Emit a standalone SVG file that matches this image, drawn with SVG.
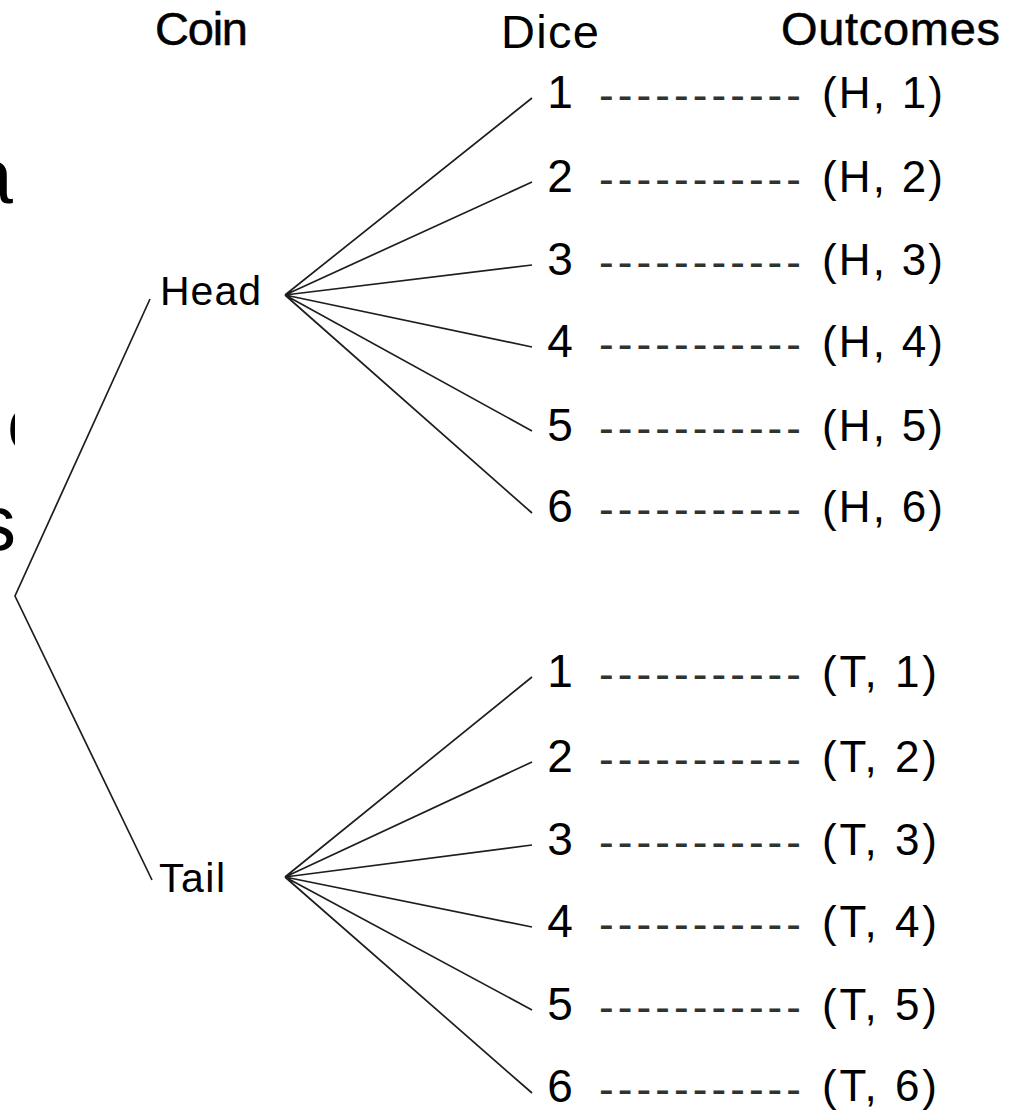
<svg xmlns="http://www.w3.org/2000/svg" width="1019" height="1110" viewBox="0 0 1019 1110">
  <style>
    text { font-family: "Liberation Sans", Arial, sans-serif; fill: #000; }
    .hdr { font-size: 47px; }
    .bold { stroke: #000; stroke-width: 0.5; }
    .node { font-size: 41px; }
    .num { font-size: 46px; text-anchor: middle; }
    .dash { font-size: 44px; fill: #2e342e; }
    .out { font-size: 44px; }
    .bg { font-size: 78px; }
    .edge { stroke: #1e1e1e; stroke-width: 1.7; fill: none; }
  </style>
  <defs>
    <clipPath id="leftStrip">
      <rect x="0" y="0" width="15" height="1110"/>
    </clipPath>
  </defs>
  <rect width="1019" height="1110" fill="#fff"/>

  <!-- slide text peeking out at the left edge -->
  <g id="slide-text" clip-path="url(#leftStrip)">
    <text class="bg" x="13" y="203" text-anchor="end">a</text>
    <text class="bg" x="7" y="450">o</text>
    <text class="bg" x="16" y="550" text-anchor="end">s</text>
  </g>

  <!-- column headings -->
  <g id="headings">
    <text class="hdr bold" x="155" y="45" textLength="93">Coin</text>
    <text class="hdr" x="501" y="48" font-size="49" textLength="98">Dice</text>
    <text class="hdr bold" x="781" y="45" font-size="46" textLength="219">Outcomes</text>
  </g>

  <!-- branches -->
  <g id="connectors">
    <polyline class="edge" points="150,299 15,596 152,880"/>
    <path class="edge" d="M285,295 L532,98 M285,295 L532,182 M285,295 L532,265 M285,295 L532,347 M285,295 L532,431 M285,295 L532,513"/>
    <path class="edge" d="M285,877 L532,677 M285,877 L532,762 M285,877 L532,845 M285,877 L532,927 M285,877 L532,1010 M285,877 L532,1093"/>
  </g>

  <!-- coin nodes -->
  <g id="node-head"><text class="node" x="160" y="305" textLength="101">Head</text></g>
  <g id="node-tail"><text class="node" x="159" y="892" textLength="66">Tail</text></g>

  <!-- dice rows under Head -->
  <g id="head-1"><text class="num" x="560" y="108">1</text><text class="dash" x="599" y="110" textLength="202">-----------</text><text class="out" x="822" y="108" textLength="121">(H, 1)</text></g>
  <g id="head-2"><text class="num" x="560" y="192">2</text><text class="dash" x="599" y="194" textLength="202">-----------</text><text class="out" x="822" y="192" textLength="121">(H, 2)</text></g>
  <g id="head-3"><text class="num" x="560" y="275">3</text><text class="dash" x="599" y="277" textLength="202">-----------</text><text class="out" x="822" y="275" textLength="121">(H, 3)</text></g>
  <g id="head-4"><text class="num" x="560" y="357">4</text><text class="dash" x="599" y="359" textLength="202">-----------</text><text class="out" x="822" y="357" textLength="121">(H, 4)</text></g>
  <g id="head-5"><text class="num" x="560" y="441">5</text><text class="dash" x="599" y="443" textLength="202">-----------</text><text class="out" x="822" y="441" textLength="121">(H, 5)</text></g>
  <g id="head-6"><text class="num" x="560" y="522">6</text><text class="dash" x="599" y="524" textLength="202">-----------</text><text class="out" x="822" y="522" textLength="121">(H, 6)</text></g>

  <!-- dice rows under Tail -->
  <g id="tail-1"><text class="num" x="560" y="687">1</text><text class="dash" x="599" y="689" textLength="202">-----------</text><text class="out" x="822" y="687" textLength="115">(T, 1)</text></g>
  <g id="tail-2"><text class="num" x="560" y="772">2</text><text class="dash" x="599" y="774" textLength="202">-----------</text><text class="out" x="822" y="772" textLength="115">(T, 2)</text></g>
  <g id="tail-3"><text class="num" x="560" y="855">3</text><text class="dash" x="599" y="857" textLength="202">-----------</text><text class="out" x="822" y="855" textLength="115">(T, 3)</text></g>
  <g id="tail-4"><text class="num" x="560" y="937">4</text><text class="dash" x="599" y="939" textLength="202">-----------</text><text class="out" x="822" y="937" textLength="115">(T, 4)</text></g>
  <g id="tail-5"><text class="num" x="560" y="1020">5</text><text class="dash" x="599" y="1022" textLength="202">-----------</text><text class="out" x="822" y="1020" textLength="115">(T, 5)</text></g>
  <g id="tail-6"><text class="num" x="560" y="1102">6</text><text class="dash" x="599" y="1104" textLength="202">-----------</text><text class="out" x="822" y="1101" textLength="115">(T, 6)</text></g>
</svg>
